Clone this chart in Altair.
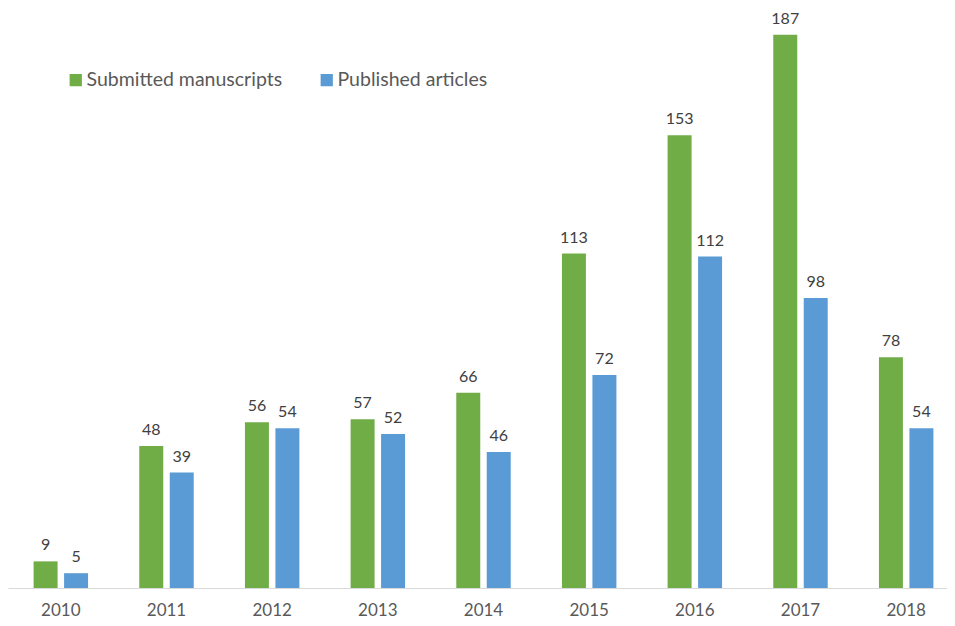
import altair as alt
import pandas as pd

years = ["2010", "2011", "2012", "2013", "2014", "2015", "2016", "2017", "2018"]
submitted = [9, 48, 56, 57, 66, 113, 153, 187, 78]
published = [5, 39, 54, 52, 46, 72, 112, 98, 54]
series_names = ["Submitted manuscripts", "Published articles"]
colors = ["#70AD47", "#5B9BD5"]

rows = []
for y, s, p in zip(years, submitted, published):
    rows.append({"year": y, "series": series_names[0], "value": s})
    rows.append({"year": y, "series": series_names[1], "value": p})
df = pd.DataFrame(rows)

FONT = "Lato"

x = alt.X("year:N", title=None, sort=years,
          scale=alt.Scale(range=[0, 951], paddingInner=0, paddingOuter=0),
          axis=alt.Axis(labelAngle=0, labelFontSize=17, labelColor="#595959",
                        labelFont=FONT, labelBaseline="alphabetic", labelPadding=27,
                        ticks=False, domainColor="#D9D9D9", domainWidth=1.2))
xo = alt.XOffset("series:N", sort=series_names,
                 scale=alt.Scale(paddingInner=0.213, paddingOuter=0.84))
y = alt.Y("value:Q", scale=alt.Scale(domain=[0, 196], nice=False), axis=None)

bars = alt.Chart(df).mark_bar().encode(
    x=x, xOffset=xo, y=y,
    color=alt.Color("series:N", sort=series_names,
                    scale=alt.Scale(domain=series_names, range=colors),
                    legend=alt.Legend(title=None, orient="none", legendX=58, legendY=62,
                                      direction="horizontal", symbolType="square",
                                      symbolSize=150, symbolStrokeWidth=0,
                                      labelFontSize=19.5, labelFont=FONT, labelLimit=0,
                                      labelColor="#595959", labelOffset=1,
                                      columnPadding=34, padding=0)),
)

labels = alt.Chart(df).mark_text(baseline="alphabetic", dy=-11, fontSize=16,
                                  font=FONT, color="#404040").encode(
    x=x, xOffset=xo, y=y, text=alt.Text("value:Q")
)

chart = (bars + labels).properties(
    width=939, height=580,
    autosize=alt.AutoSizeParams(type="none"),
    padding={"left": 0, "top": 0, "right": 0, "bottom": 32},
).configure_view(stroke=None)

chart.save("out.html", embed_options={"renderer": "svg", "actions": False})
